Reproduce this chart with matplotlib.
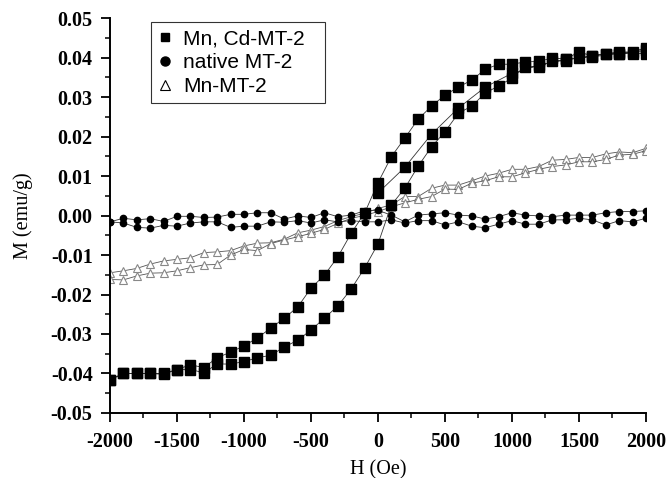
import numpy as np
import matplotlib
matplotlib.use("Agg")
import matplotlib.pyplot as plt
from matplotlib.lines import Line2D
from matplotlib.ticker import MultipleLocator, FuncFormatter

plt.rcParams["axes.unicode_minus"] = False

# field steps (Oe)
H = np.arange(-2000, 2001, 100)
H_virgin = np.arange(0, 2001, 200)

# Mn, Cd-MT-2 : virgin curve, descending branch (+2000 -> -2000), ascending branch (-2000 -> +2000)
mncd_virgin = [0.0057, 0.0122, 0.0206, 0.0272, 0.0325, 0.0360, 0.0380, 0.0396, 0.0402, 0.0410, 0.0418]
mncd_down = [0.0425, 0.0414, 0.0414, 0.0410, 0.0404, 0.0414, 0.0396, 0.0399, 0.0390, 0.0389,
             0.0383, 0.0383, 0.0370, 0.0343, 0.0325, 0.0305, 0.0277, 0.0244, 0.0196, 0.0149,
             0.0083, 0.0006, -0.0045, -0.0105, -0.0151, -0.0184, -0.0232, -0.0260, -0.0285, -0.0310,
             -0.0330, -0.0346, -0.0360, -0.0385, -0.0378, -0.0390, -0.0400, -0.0400, -0.0400, -0.0400,
             -0.0416]
mncd_up = [-0.0416, -0.0400, -0.0400, -0.0400, -0.0402, -0.0390, -0.0390, -0.0398, -0.0376, -0.0376,
           -0.0370, -0.0360, -0.0354, -0.0333, -0.0316, -0.0290, -0.0260, -0.0229, -0.0186, -0.0133,
           -0.0072, 0.0027, 0.0069, 0.0125, 0.0174, 0.0212, 0.0259, 0.0277, 0.0310, 0.0328,
           0.0348, 0.0377, 0.0377, 0.0390, 0.0392, 0.0400, 0.0404, 0.0410, 0.0410, 0.0410,
           0.0410]

# native MT-2
native_a = [-0.0016, -0.0007, -0.0011, -0.0008, -0.0015, -0.0002, -0.0002, -0.0005, -0.0004, 0.0003,
            0.0003, 0.0007, 0.0007, -0.0009, -0.0001, -0.0005, 0.0007, -0.0003, 0.0001, 0.0012,
            0.0013, 0.0001, -0.0016, 0.0001, 0.0004, 0.0007, 0.0001, -0.0001, -0.0009, -0.0003,
            0.0007, 0.0001, -0.0001, -0.0003, 0.0001, 0.0001, 0.0001, 0.0007, 0.0010, 0.0010,
            0.0012]
native_b = [-0.0016, -0.0019, -0.0030, -0.0032, -0.0025, -0.0027, -0.0019, -0.0016, -0.0016, -0.0030,
            -0.0027, -0.0027, -0.0016, -0.0017, -0.0013, -0.0019, -0.0011, -0.0016, -0.0013, -0.0016,
            -0.0016, -0.0011, -0.0019, -0.0013, -0.0013, -0.0024, -0.0016, -0.0027, -0.0031, -0.0022,
            -0.0013, -0.0022, -0.0022, -0.0011, -0.0011, -0.0007, -0.0011, -0.0024, -0.0013, -0.0016,
            -0.0007]

# Mn-MT-2
mn_a = [-0.0145, -0.0140, -0.0134, -0.0123, -0.0115, -0.0111, -0.0107, -0.0094, -0.0092, -0.0089,
        -0.0077, -0.0070, -0.0069, -0.0060, -0.0044, -0.0037, -0.0028, -0.0013, -0.0003, 0.0006,
        0.0018, 0.0027, 0.0048, 0.0048, 0.0069, 0.0077, 0.0077, 0.0088, 0.0100, 0.0107,
        0.0117, 0.0117, 0.0124, 0.0140, 0.0142, 0.0147, 0.0147, 0.0156, 0.0161, 0.0159,
        0.0170]
mn_b = [-0.0162, -0.0163, -0.0153, -0.0146, -0.0145, -0.0140, -0.0132, -0.0125, -0.0124, -0.0100,
        -0.0086, -0.0089, -0.0071, -0.0062, -0.0054, -0.0045, -0.0035, -0.0020, -0.0007, 0.0000,
        0.0010, 0.0022, 0.0032, 0.0041, 0.0048, 0.0067, 0.0066, 0.0082, 0.0088, 0.0098,
        0.0098, 0.0108, 0.0117, 0.0124, 0.0128, 0.0136, 0.0136, 0.0142, 0.0153, 0.0155,
        0.0164]

labels = ["Mn, Cd-MT-2", "native MT-2", "Mn-MT-2"]

fig = plt.figure(figsize=(6.69, 4.78), dpi=100)
ax = fig.add_axes([0.1644, 0.136, 0.8012, 0.8263])

lw = 0.6
# Mn-MT-2 triangles
for m in (mn_a, mn_b):
    ax.plot(H, m, color="#555555", lw=lw, marker="^", ms=5.5, mfc="white", mec="#888888", mew=0.8, zorder=2)
# native circles
for m in (native_a, native_b):
    ax.plot(H, m, color="#333333", lw=lw, marker="o", ms=4.5, mfc="black", mec="black", zorder=3)
# Mn, Cd squares (one continuous measurement path)
x_all = np.concatenate([H_virgin, H[::-1], H])
y_all = np.concatenate([mncd_virgin, mncd_down, mncd_up])
ax.plot(x_all, y_all, color="#333333", lw=lw, marker="s", ms=7, mfc="black", mec="black", zorder=4)

ax.set_xlim(-2000, 2000)
ax.set_ylim(-0.05, 0.05)
ax.xaxis.set_major_locator(MultipleLocator(500))
ax.xaxis.set_minor_locator(MultipleLocator(250))
ax.yaxis.set_major_locator(MultipleLocator(0.01))
ax.yaxis.set_minor_locator(MultipleLocator(0.005))
ax.yaxis.set_major_formatter(FuncFormatter(lambda v, p: "%.2f" % (round(v, 3) + 0.0)))

for s in ("top", "right"):
    ax.spines[s].set_visible(False)
for s in ("left", "bottom"):
    ax.spines[s].set_linewidth(1.4)
ax.tick_params(which="major", direction="out", length=6.5, width=1.3)
ax.tick_params(axis="y", which="major", pad=6)
ax.tick_params(axis="x", which="major", pad=7)
ax.tick_params(which="minor", direction="out", length=3.5, width=1.1)

for t in ax.get_xticklabels() + ax.get_yticklabels():
    t.set_fontfamily("Liberation Serif")
    t.set_fontweight("bold")
    t.set_fontsize(14.5)
ax.set_xlabel("H (Oe)", family="Liberation Serif", fontsize=14.5, labelpad=6)
ax.set_ylabel("M (emu/g)", family="Liberation Serif", fontsize=14.5, labelpad=13)

handles = [
    Line2D([], [], ls="none", marker="s", ms=6, mfc="black", mec="black"),
    Line2D([], [], ls="none", marker="o", ms=6.5, mfc="black", mec="black"),
    Line2D([], [], ls="none", marker="^", ms=6.5, mfc="white", mec="black", mew=0.8),
]
leg = ax.legend(handles, labels, loc="upper left", bbox_to_anchor=(0.0765, 0.5, 0.3246, 0.489),
                mode="expand", prop={"family": "Liberation Sans", "size": 15}, frameon=True,
                fancybox=False, edgecolor="black", handlelength=0.65, handletextpad=0.55,
                labelspacing=0.22, borderpad=0.35, borderaxespad=0)
leg.get_frame().set_linewidth(0.8)

fig.savefig("out.png", dpi=100)
